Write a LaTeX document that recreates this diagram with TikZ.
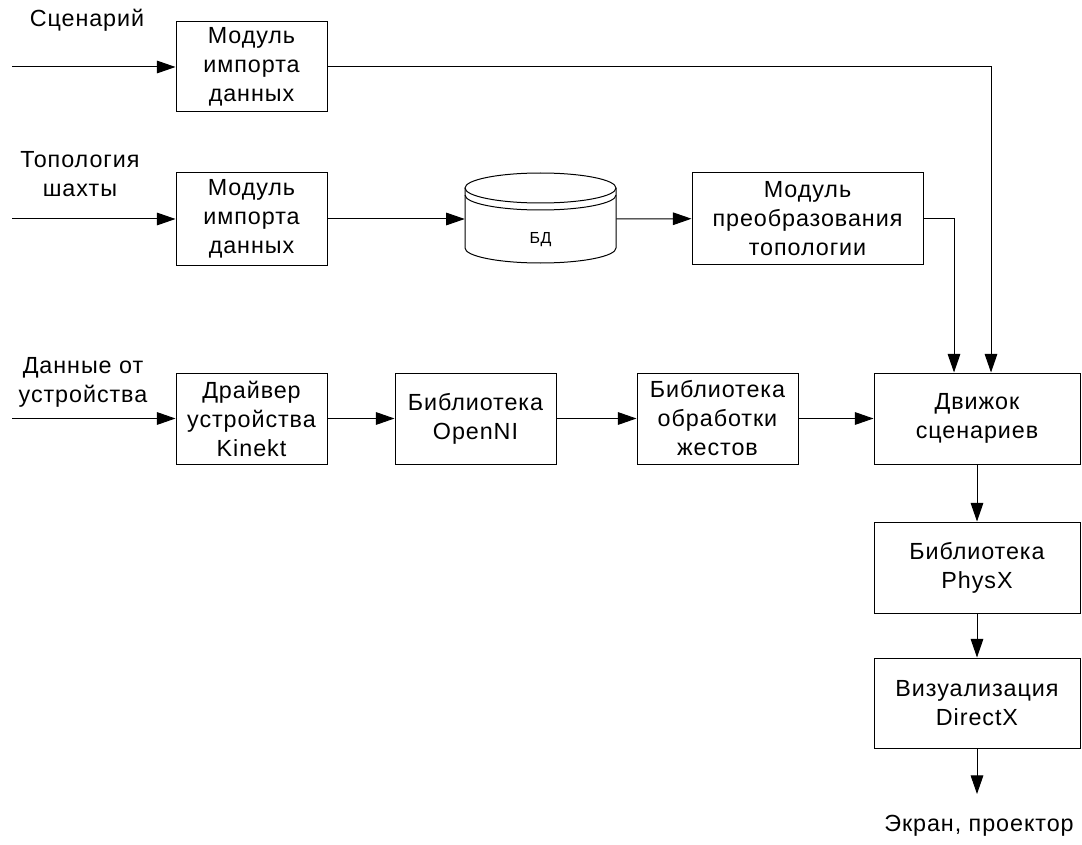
\documentclass[tikz,border=0pt]{standalone}
\usepackage{fontspec}
\setmainfont[LetterSpace=4]{Liberation Sans}
\usetikzlibrary{arrows.meta,calc}
\begin{document}
\begin{tikzpicture}[x=0.75pt,y=-0.75pt,
  txt/.style={font=\fontsize{17.5}{21.75}\selectfont},
  box/.style={draw, line width=0.75pt, align=center, txt, inner sep=0pt},
  lbl/.style={align=center, txt, inner sep=0pt},
  ln/.style={line width=0.75pt},
  arr/.style={line width=0.75pt, -{Triangle[length=14pt,width=9.5pt]}}]
\useasboundingbox (0,0) rectangle (1082,845);
% boxes
\node[box, minimum width=113.25pt, minimum height=67.5pt] (m1) at (251.5,67) {Модуль\\импорта\\данных};
\node[box, minimum width=113.25pt, minimum height=69pt] (m2) at (251.5,219) {Модуль\\импорта\\данных};
\node[minimum width=113.25pt, minimum height=67.5pt, inner sep=0pt] (db) at (540.5,219) {};
\node[box, minimum width=173.25pt, minimum height=68.25pt] (m3) at (807.5,218.5) {Модуль\\преобразования\\топологии};
\node[box, minimum width=113.25pt, minimum height=68.25pt] (m4) at (251.5,418.5) {Драйвер\\устройства\\Kinekt};
\node[box, minimum width=120.75pt, minimum height=68.25pt] (m5) at (475.5,418.5) {Библиотека\\OpenNI};
\node[box, minimum width=120.75pt, minimum height=68.25pt] (m6) at (717.5,418.5) {Библиотека\\обработки\\жестов};
\node[box, minimum width=154.5pt, minimum height=68.25pt] (m7) at (977,418.5) {Движок\\сценариев};
\node[box, minimum width=154.5pt, minimum height=68.25pt] (m8) at (977,567.5) {Библиотека\\PhysX};
\node[box, minimum width=154.5pt, minimum height=67.5pt] (m9) at (977,703) {Визуализация\\DirectX};
% cylinder
\draw[ln] (540.5,188) ellipse [x radius=75.5, y radius=15];
\draw[ln] (465,195) arc [start angle=180, end angle=0, x radius=75.5, y radius=15];
\draw[ln] (465,188) -- (465,248) arc [start angle=180, end angle=0, x radius=75.5, y radius=15] -- (616,188);
\node[font=\fontsize{12}{14}\selectfont, inner sep=0pt] (dbl) at (540.5,240) {БД};
% labels
\node[lbl] (l1) at (87,20) {Сценарий};
\node[lbl] (l2) at (80,174) {Топология\\шахты};
\node[lbl] (l3) at (83,382) {Данные от\\устройства};
\node[lbl] (l4) at (979,826) {Экран, проектор};
% free ends
\coordinate (in1) at (12,67);
\coordinate (in2) at (12,219);
\coordinate (in3) at (12,418.5);
\coordinate (out) at (977,794);
% connectors
\draw[arr] (in1) -- (m1);
\draw[arr] (in2) -- (m2);
\draw[arr] (in3) -- (m4);
\draw[arr] (m2) -- (db);
\draw[arr] (db) -- (m3);
\draw[arr] (m4) -- (m5);
\draw[arr] (m5) -- (m6);
\draw[arr] (m6) -- (m7);
\draw[arr] (m7) -- (m8);
\draw[arr] (m8) -- (m9);
\draw[arr] (m9) -- (out);
\draw[arr] (m1.east) -| ($(m7.north)+(14,0)$);
\draw[arr] (m3.east) -| ($(m7.north)+(-23,0)$);
\end{tikzpicture}
\end{document}
